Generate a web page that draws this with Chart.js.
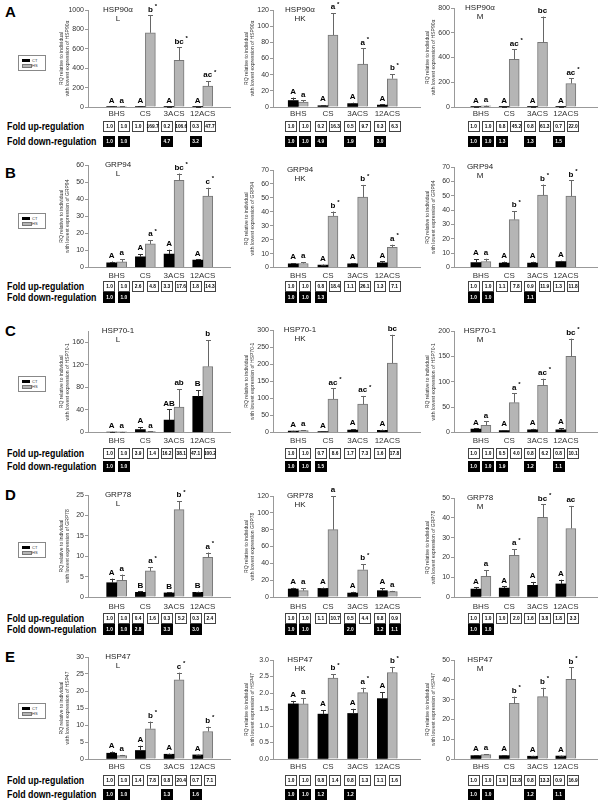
<!DOCTYPE html>
<html><head><meta charset="utf-8">
<script src="https://cdn.jsdelivr.net/npm/chart.js@4.4.1/dist/chart.umd.min.js"></script>
<style>
body{margin:0;width:600px;height:810px;position:relative;background:#fff;overflow:hidden;font-family:"Liberation Sans",Arial,sans-serif;}
canvas{position:absolute;}
.rowlab{position:absolute;left:5px;font-weight:bold;font-size:15px;line-height:16px;height:16px;}
.fold{position:absolute;left:7px;font-weight:bold;font-size:11px;line-height:14px;height:14px;white-space:nowrap;transform-origin:left center;transform:scaleX(0.8);}
.leg{position:absolute;left:18px;width:26px;height:14px;border:1px solid #888;background:#fff;}
.leg div{position:absolute;left:3px;width:8px;height:3px;}
.leg span{position:absolute;left:13px;font-size:4px;line-height:4px;color:#333;}
</style></head><body>
<script>
// ---------------- DATA ----------------
const categories = ['BHS', 'CS', '3ACS', '12ACS'];
const panelRows = ['A', 'B', 'C', 'D', 'E'];
const tissues = ['L', 'HK', 'M'];
const genes = ['HSP90\u03b1', 'GRP94', 'HSP70-1', 'GRP78', 'HSP47'];
const seriesNames = ['CT', 'HS'];
const yTitleLine1 = 'RQ relative to individual';
const yTitleLine2 = [
  ['with lowest expression of HSP90\u03b1', 'with lowest expression of HSP90\u03b1', 'with lowest expression of HSP90\u03b1'],
  ['with lowest expression of GRP94', 'with lowest expression of GRP94', 'with lowest expression of GRP94'],
  ['with lowest expression of HSP70-1', 'with lowest expression of HSP70-1', 'with lowest expression of HSP70-1'],
  ['with lowest expression of GRP78', 'with lowest expression GRP78', 'with lowest expression of GRP78'],
  ['with lowest expression of HSP47', 'with lowest expression of HSP47', 'with lowest expression of HSP47']
];
const yMax  = [[1000, 120, 800], [60, 70, 70], [180, 300, 200], [25, 120, 50], [30, 3.0, 50]];
const yStep = [[200, 20, 200], [10, 10, 10], [20, 50, 50], [5, 20, 10], [5, 0.5, 10]];
const yDecimals = [[0, 0, 0], [0, 0, 0], [0, 0, 0], [0, 0, 0], [0, 1, 0]];

// Row A : HSP90a  (each array: [L, HK, M])
const A_ctMean = [[4.5, 4.5, 1.0, 1.4], [8.0, 1.6, 4.2, 2.4], [3.0, 2.4, 2.4, 2.1]];
const A_ctErr  = [[1.0, 1.0, 0.4, 0.5], [3.6, 0.6, 1.2, 0.8], [1.0, 0.8, 0.8, 0.7]];
const A_hsMean = [[4.5, 765, 480, 215], [6.2, 89, 53, 35], [8.5, 385, 523, 190]];
const A_hsErr  = [[1.0, 180, 135, 50], [2.0, 27, 19.5, 5.6], [3.0, 81, 208, 41]];
const A_ctLetters = [['A', 'A', 'A', 'A'], ['A', 'A', 'A', 'A'], ['A', 'A', 'A', 'A']];
const A_hsLetters = [['a', 'b*', 'bc*', 'ac*'], ['a', 'a*', 'a*', 'b*'], ['a', 'ac*', 'bc', 'ac*']];
const A_foldUp   = [[1.0, 1.0, 1.0, 169.7, 0.2, 106.6, 0.3, 47.7], [1.0, 1.0, 0.2, 16.3, 0.5, 9.7, 0.3, 6.3], [1.0, 1.0, 0.8, 45.2, 0.8, 61.3, 0.7, 22.0]];
const A_foldDown = [[1.0, 1.0, null, null, 4.7, null, 3.2, null], [1.0, 1.0, 4.9, null, 1.9, null, 3.0, null], [1.0, 1.0, 1.3, null, 1.3, null, 1.5, null]];

// Row B : GRP94
const B_ctMean = [[2.7, 6.3, 7.9, 4.3], [2.6, 1.7, 2.6, 3.4], [3.5, 3.1, 3.1, 4.2]];
const B_ctErr  = [[0.8, 1.5, 2.5, 0.5], [0.6, 0.4, 0.5, 1.0], [2.3, 1.0, 0.9, 0.5]];
const B_hsMean = [[3.3, 13.8, 51, 41.8], [2.9, 37, 50.5, 14.5], [4.2, 33.4, 50.4, 49.7]];
const B_hsErr  = [[1.6, 2.3, 4, 4.9], [0.9, 3.2, 8.8, 1.9], [1.9, 5.8, 7.4, 10.9]];
const B_ctLetters = [['A', 'A', 'A', 'A'], ['A', 'A', 'A', 'A'], ['A', 'A', 'A', 'A']];
const B_hsLetters = [['a', 'a*', 'bc*', 'c*'], ['a', 'b*', 'b*', 'a*'], ['a', 'b*', 'b*', 'b*']];
const B_foldUp   = [[1.0, 1.0, 2.6, 4.8, 3.3, 17.6, 1.8, 14.3], [1.0, 1.0, 0.8, 18.4, 1.1, 26.1, 1.3, 7.1], [1.0, 1.0, 1.1, 7.8, 0.9, 11.9, 1.3, 11.8]];
const B_foldDown = [[1.0, 1.0, null, null, null, null, null, null], [1.0, 1.0, 1.3, null, null, null, null, null], [1.0, 1.0, null, null, 1.1, null, null, null]];

// Row C : HSP70-1
const C_ctMean = [[0.9, 5, 22, 64], [4, 2.7, 6.8, 6.4], [6.6, 4, 5.3, 5.3]];
const C_ctErr  = [[0.3, 4.5, 19, 11], [1, 0.5, 3, 2], [1.5, 0.8, 2, 3]];
const C_hsMean = [[1, 1.5, 45, 117], [5.5, 98, 83, 203], [14.3, 59, 93, 150]];
const C_hsErr  = [[0.3, 0.5, 32, 47], [1.5, 31, 24, 83], [7.5, 18, 13, 35]];
const C_ctLetters = [['A', 'A', 'AB', 'B'], ['A', 'A', 'A', 'A'], ['A', 'A', 'A', 'A']];
const C_hsLetters = [['a', 'a', 'ab', 'b'], ['a', 'ac*', 'ac*', 'bc'], ['a', 'a*', 'ac*', 'bc*']];
const C_foldUp   = [[1.0, 1.0, 3.9, 1.4, 16.2, 38.1, 47.1, 100.2], [1.0, 1.0, 0.7, 8.6, 1.7, 7.3, 1.6, 17.8], [1.0, 1.0, 0.5, 4.0, 0.8, 6.2, 0.8, 10.1]];
const C_foldDown = [[1.0, 1.0, null, null, null, null, null, null], [1.0, 1.0, 1.5, null, null, null, null, null], [1.0, 1.0, 1.9, null, 1.2, null, 1.1, null]];

// Row D : GRP78
const D_ctMean = [[3.5, 1.15, 1.0, 1.15], [9.5, 10.2, 4.7, 7.5], [4, 4.5, 5.9, 6.6]];
const D_ctErr  = [[1.0, 0.2, 0.15, 0.15], [1.5, 1, 1.5, 3], [0.8, 0.9, 1.7, 2.1]];
const D_hsMean = [[4.1, 6.4, 21.4, 9.7], [7.5, 80, 32.4, 6.3], [10.4, 21, 40.2, 34.6]];
const D_hsErr  = [[1.4, 0.9, 2.1, 1.2], [3, 40, 6.8, 1], [3.2, 3.2, 6.6, 11.4]];
const D_ctLetters = [['A', 'B', 'B', 'B'], ['A', 'A', 'A', 'A'], ['A', 'A', 'A', 'A']];
const D_hsLetters = [['a', 'a*', 'b*', 'a*'], ['a', 'a', 'b*', 'a'], ['a', 'a*', 'bc*', 'ac']];
const D_foldUp   = [[1.0, 1.0, 0.4, 1.6, 0.3, 5.2, 0.3, 2.4], [1.0, 1.0, 1.1, 10.7, 0.5, 4.4, 0.8, 0.9], [1.0, 1.0, 1.0, 2.0, 1.6, 3.8, 1.8, 3.3]];
const D_foldDown = [[1.0, 1.0, 2.8, null, 3.3, null, 3.0, null], [1.0, 1.0, null, null, 2.0, null, 1.2, 1.1], [1.0, 1.0, null, null, null, null, null, null]];

// Row E : HSP47
const E_ctMean = [[1.7, 2.5, 1.4, 1.2], [1.67, 1.36, 1.38, 1.83], [1.7, 1.7, 1.4, 1.5]];
const E_ctErr  = [[0.5, 1.4, 0.2, 0.1], [0.09, 0.12, 0.14, 0.2], [0.2, 0.2, 0.2, 0.2]];
const E_hsMean = [[1.0, 8.9, 23.3, 8.1], [1.67, 2.45, 2.01, 2.62], [2.2, 28.1, 31.5, 40.2]];
const E_hsErr  = [[0.2, 2.1, 2.1, 1.4], [0.17, 0.12, 0.15, 0.17], [0.3, 3.4, 4.5, 6.1]];
const E_ctLetters = [['A', 'A', 'A', 'A'], ['A', 'A', 'A', 'A'], ['A', 'A', 'A', 'A']];
const E_hsLetters = [['a', 'b*', 'c*', 'b*'], ['a', 'b*', 'a*', 'b*'], ['a', 'b*', 'b*', 'b*']];
const E_foldUp   = [[1.0, 1.0, 1.4, 7.8, 0.8, 20.4, 0.7, 7.1], [1.0, 1.0, 0.8, 1.4, 0.8, 1.3, 1.1, 1.6], [1.0, 1.0, 1.0, 11.8, 0.8, 13.3, 0.9, 16.9]];
const E_foldDown = [[1.0, 1.0, null, null, 1.3, null, 1.6, null], [1.0, 1.0, 1.2, null, 1.2, null, null, null], [1.0, 1.0, null, null, 1.2, null, 1.1, null]];

const ctMean = [A_ctMean, B_ctMean, C_ctMean, D_ctMean, E_ctMean];
const ctErr  = [A_ctErr, B_ctErr, C_ctErr, D_ctErr, E_ctErr];
const hsMean = [A_hsMean, B_hsMean, C_hsMean, D_hsMean, E_hsMean];
const hsErr  = [A_hsErr, B_hsErr, C_hsErr, D_hsErr, E_hsErr];
const ctLetters = [A_ctLetters, B_ctLetters, C_ctLetters, D_ctLetters, E_ctLetters];
const hsLetters = [A_hsLetters, B_hsLetters, C_hsLetters, D_hsLetters, E_hsLetters];
const foldUp   = [A_foldUp, B_foldUp, C_foldUp, D_foldUp, E_foldUp];
const foldDown = [A_foldDown, B_foldDown, C_foldDown, D_foldDown, E_foldDown];

// ---------------- LAYOUT ----------------
const FONT = '"Liberation Sans", Arial, sans-serif';
const COLS = [
  { left: 48,  axis: 88,  end: 230, xmin: 0.0,  xmax: 4.95, titleDx: 30 },
  { left: 233, axis: 273, end: 420, xmin: 0.15, xmax: 5.1,  titleDx: 27 },
  { left: 414, axis: 454, end: 597, xmin: 0.05, xmax: 5.1,  titleDx: 26 }
];
const ROWS = [
  { tops: [10, 10, 8],     zero: 107,   catPad: 2, upOff: 19,   downOff: 34,   letterY: 12,  legTop: 55 },
  { tops: [165, 170, 167], zero: 267.5, catPad: 3, upOff: 18.5, downOff: 29.5, letterY: 173, legTop: 213 },
  { tops: [331, 330, 331], zero: 432.5, catPad: 3, upOff: 20.5, downOff: 33.5, letterY: 331, legTop: 376 },
  { tops: [495, 496, 498], zero: 597,   catPad: 5, upOff: 21,   downOff: 32,   letterY: 495, legTop: 542 },
  { tops: [657, 660, 660], zero: 759,   catPad: 3, upOff: 21,   downOff: 35,   letterY: 657, legTop: 703 }
];
const PAD_TOP = 14, X_AXIS_H = 16, PAD_RIGHT = 4;

// ---------------- PLUGIN: error bars, letters, panel titles, fold tables ----------------
const extrasPlugin = {
  id: 'extras',
  afterDatasetsDraw(chart) {
    const o = chart.options.plugins.extras;
    const ctx = chart.ctx, ys = chart.scales.y, xs = chart.scales.x, ca = chart.chartArea;
    ctx.save();
    [0, 1].forEach(di => {
      const meta = chart.getDatasetMeta(di);
      meta.data.forEach((el, j) => {
        const top = ys.getPixelForValue(o.means[di][j] + o.errs[di][j]);
        const x = Math.round(el.x) + 0.5;
        ctx.strokeStyle = di === 0 ? '#333' : '#666';
        ctx.lineWidth = 1;
        ctx.beginPath();
        ctx.moveTo(x, el.y); ctx.lineTo(x, top);
        ctx.moveTo(x - 2.5, Math.round(top) + 0.5); ctx.lineTo(x + 2.5, Math.round(top) + 0.5);
        ctx.stroke();
        let txt = o.letters[di][j];
        const star = txt.endsWith('*');
        if (star) txt = txt.slice(0, -1);
        ctx.font = 'bold 8px ' + FONT;
        ctx.fillStyle = '#000';
        ctx.textAlign = 'center';
        ctx.textBaseline = 'middle';
        const ly = top - 6;
        ctx.fillText(txt, el.x, ly);
        if (star) {
          const w = ctx.measureText(txt).width;
          ctx.font = 'bold 6px ' + FONT;
          ctx.fillText('*', el.x + w / 2 + 3, ly - 3);
        }
      });
    });
    // panel title (gene + tissue)
    ctx.font = '8px ' + FONT;
    ctx.fillStyle = '#222';
    ctx.textAlign = 'center';
    ctx.textBaseline = 'middle';
    ctx.fillText(o.gene, ca.left + o.titleDx, ca.top);
    ctx.fillText(o.tissue, ca.left + o.titleDx, ca.top + 9);
    // fold tables
    const zeroY = ys.getPixelForValue(0);
    const drawBox = (cx, cy, v, dark) => {
      const w = 12, h = 11;
      ctx.fillStyle = dark ? '#000' : '#fff';
      ctx.fillRect(Math.round(cx - w / 2), Math.round(cy - h / 2), w, h);
      ctx.strokeStyle = dark ? '#000' : '#444';
      ctx.lineWidth = 1;
      ctx.strokeRect(Math.round(cx - w / 2) + 0.5, Math.round(cy - h / 2) + 0.5, w - 1, h - 1);
      ctx.fillStyle = dark ? '#fff' : '#000';
      ctx.font = 'bold 4.8px ' + FONT;
      ctx.textAlign = 'center';
      ctx.textBaseline = 'middle';
      ctx.fillText(v.toFixed(1), cx, cy + 0.5);
    };
    categories.forEach((c, j) => {
      const cx = xs.getPixelForValue(j + 1);
      [0, 1].forEach(k => {
        const bx = cx + (k === 0 ? -7.2 : 7.2);
        const up = o.up[j * 2 + k];
        if (up !== null) drawBox(bx, zeroY + o.upOff, up, false);
        const dn = o.down[j * 2 + k];
        if (dn !== null) drawBox(bx, zeroY + o.downOff, dn, true);
      });
    });
    ctx.restore();
  }
};

// ---------------- BUILD ----------------
ROWS.forEach((row, r) => {
  const lab = document.createElement('div');
  lab.className = 'rowlab'; lab.textContent = panelRows[r];
  lab.style.top = (row.letterY - 8) + 'px';
  document.body.appendChild(lab);
  [['Fold up-regulation', row.upOff], ['Fold down-regulation', row.downOff]].forEach(([t, off]) => {
    const d = document.createElement('div');
    d.className = 'fold'; d.textContent = t;
    d.style.top = (row.zero + off - 7) + 'px';
    document.body.appendChild(d);
  });
  const leg = document.createElement('div');
  leg.className = 'leg'; leg.style.top = row.legTop + 'px';
  leg.innerHTML = '<div style="top:3px;background:#000"></div><span style="top:2.5px">' + seriesNames[0] +
    '</span><div style="top:8px;background:#b5b5b5;border:0.5px solid #777;height:2px"></div><span style="top:7.5px">' + seriesNames[1] + '</span>';
  document.body.appendChild(leg);

  COLS.forEach((col, c) => {
    const top = row.tops[c];
    const plotH = row.zero - top;
    const H = Math.round(PAD_TOP + plotH + row.downOff + 9);
    const W = col.end - col.left + PAD_RIGHT;
    const padBottom = H - PAD_TOP - plotH - X_AXIS_H;
    const cv = document.createElement('canvas');
    cv.width = W; cv.height = H;
    cv.style.width = W + 'px'; cv.style.height = H + 'px';
    cv.style.left = col.left + 'px'; cv.style.top = (top - PAD_TOP) + 'px';
    document.body.appendChild(cv);
    const yW = col.axis - col.left;
    const titleLH = 6;
    const titlePadTop = (col.axis - 26) - col.left - titleLH / 2;
    const dec = yDecimals[r][c];
    new Chart(cv, {
      type: 'bar',
      data: {
        datasets: [
          { label: seriesNames[0], data: ctMean[r][c].map((v, i) => ({ x: i + 1, y: v })),
            backgroundColor: '#000', borderColor: '#000', borderWidth: 0, barThickness: 10 },
          { label: seriesNames[1], data: hsMean[r][c].map((v, i) => ({ x: i + 1, y: v })),
            backgroundColor: '#b5b5b5', borderColor: '#777', borderWidth: 1, barThickness: 10 }
        ]
      },
      options: {
        responsive: false, animation: false, devicePixelRatio: 1,
        layout: { padding: { top: PAD_TOP, bottom: padBottom, left: 0, right: PAD_RIGHT } },
        plugins: {
          legend: { display: false }, tooltip: { enabled: false },
          extras: {
            means: [ctMean[r][c], hsMean[r][c]], errs: [ctErr[r][c], hsErr[r][c]],
            letters: [ctLetters[r][c], hsLetters[r][c]],
            up: foldUp[r][c], down: foldDown[r][c],
            gene: genes[r], tissue: tissues[c], titleDx: col.titleDx,
            upOff: row.upOff, downOff: row.downOff
          }
        },
        scales: {
          x: {
            type: 'linear', min: col.xmin, max: col.xmax, offset: false,
            grid: { display: false, drawTicks: false, offset: false }, border: { display: true, color: '#999' },
            afterBuildTicks: s => { s.ticks = categories.map((cat, i) => ({ value: i + 1 })); },
            afterFit: s => { s.height = X_AXIS_H; },
            ticks: { autoSkip: false, maxRotation: 0, minRotation: 0, padding: row.catPad,
              font: { size: 8, family: FONT }, color: '#333',
              callback: v => categories[Math.round(v) - 1] }
          },
          y: {
            min: 0, max: yMax[r][c],
            grid: { drawOnChartArea: false, drawTicks: true, tickLength: 3, color: '#999' },
            border: { display: true, color: '#999' },
            ticks: { stepSize: yStep[r][c], font: { size: 7, family: FONT }, color: '#333', padding: 1,
              callback: v => dec ? Number(v).toFixed(dec) : Math.round(v) },
            title: { display: true, text: [yTitleLine1, yTitleLine2[r][c]],
              font: { size: 5, family: FONT, lineHeight: 1.2 }, color: '#333',
              padding: { top: titlePadTop, bottom: 0 } },
            afterFit: s => { s.width = yW; }
          }
        }
      },
      plugins: [extrasPlugin]
    });
  });
});
</script>
</body></html>
